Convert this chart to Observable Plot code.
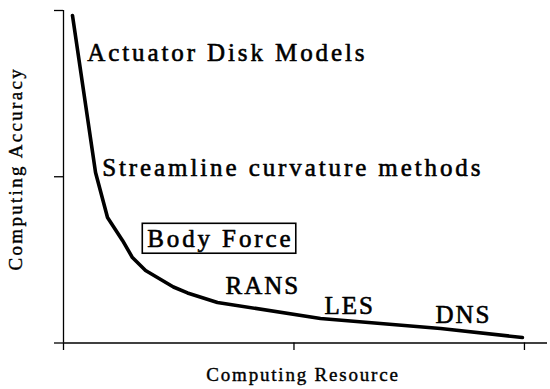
<!DOCTYPE html>
<html>
<head>
<meta charset="utf-8">
<script src="https://cdn.jsdelivr.net/npm/d3@7"></script>
<script src="https://cdn.jsdelivr.net/npm/@observablehq/plot@0.6"></script>
<style>
  html, body { margin: 0; padding: 0; background: #fff; }
</style>
</head>
<body>
<div id="chart"></div>
<script>
// Curve: computing resource (x) vs computing accuracy (y), arbitrary units
const curveX = [0.039, 0.139, 0.191, 0.256, 0.299, 0.356, 0.477, 0.538, 0.668, 1.115, 1.636, 1.991];
const curveY = [1.970, 1.026, 0.755, 0.617, 0.514, 0.436, 0.337, 0.301, 0.244, 0.147, 0.087, 0.033];

// Method labels (text, anchor position in data units)
const methodNames = ["Actuator Disk Models", "Streamline curvature methods", "Body Force"];
const methodX = [0.103, 0.168, 0.363];
const methodY = [1.699, 1.002, 0.576];

const cfdNames = ["RANS", "LES", "DNS"];
const cfdX = [0.703, 1.132, 1.614];
const cfdY = [0.292, 0.177, 0.123];

// Box around "Body Force" (data units)
const boxX = [0.344, 1.010];
const boxY = [0.537, 0.717];

const xTicks = [0, 1, 2];
const yTicks = [0, 1, 2];
const xTitle = "Computing Resource";
const yTitle = "Computing Accuracy";

const curve = curveX.map((x, i) => ({x, y: curveY[i]}));
const methods = methodNames.map((t, i) => ({t, x: methodX[i], y: methodY[i]}));
const cfd = cfdNames.map((t, i) => ({t, x: cfdX[i], y: cfdY[i]}));
const box = [{x1: boxX[0], x2: boxX[1], y1: boxY[0], y2: boxY[1]}];

const textStyle = {fill: "#000", stroke: "#000", strokeWidth: 0.6};

const chart = Plot.plot({
  width: 550,
  height: 389,
  marginLeft: 63,
  marginRight: 3,
  marginTop: 10,
  marginBottom: 46.5,
  style: {fontFamily: "'Liberation Serif', 'Times New Roman', serif", background: "#fff", color: "#000"},
  x: {domain: [0, 2.1], ticks: xTicks, tickSize: 7.5, tickFormat: () => "", label: null},
  y: {domain: [0, 2], ticks: yTicks, tickSize: 9, tickFormat: () => "", label: null},
  marks: [
    Plot.ruleX([0], {stroke: "#000", strokeWidth: 1.3}),
    Plot.ruleY([0], {stroke: "#000", strokeWidth: 1.3}),
    Plot.line(curve, {x: "x", y: "y", stroke: "#000", strokeWidth: 3.6, curve: "linear", strokeLinejoin: "round"}),
    Plot.rect(box, {x1: "x1", x2: "x2", y1: "y1", y2: "y2", fill: "none", stroke: "#000", strokeWidth: 1.6}),
    Plot.text(methods, {x: "x", y: "y", text: "t", textAnchor: "start", lineAnchor: "bottom", fontSize: 25, ...textStyle}),
    Plot.text(cfd, {x: "x", y: "y", text: "t", textAnchor: "start", lineAnchor: "bottom", fontSize: 25, ...textStyle}),
    Plot.text([xTitle], {frameAnchor: "bottom", textAnchor: "middle", lineAnchor: "bottom", dx: -2.5, dy: 37.5, fontSize: 19, fill: "#000", stroke: "#000", strokeWidth: 0.4}),
    Plot.text([yTitle], {frameAnchor: "left", textAnchor: "middle", lineAnchor: "bottom", rotate: -90, dx: -42, dy: -8, fontSize: 19, fill: "#000", stroke: "#000", strokeWidth: 0.4})
  ]
});

// letter spacing for the text marks (in mark order)
const textGroups = chart.querySelectorAll('g[aria-label="text"]');
const spacing = [2.9, 2.0, 1.8, 2.3];
textGroups.forEach((g, i) => g.setAttribute("letter-spacing", spacing[i] ?? 0));
chart.querySelectorAll('g[aria-label="x-axis tick"] path, g[aria-label="y-axis tick"] path').forEach(p => p.setAttribute("stroke-width", 1.3));

document.getElementById("chart").appendChild(chart);
</script>
</body>
</html>
